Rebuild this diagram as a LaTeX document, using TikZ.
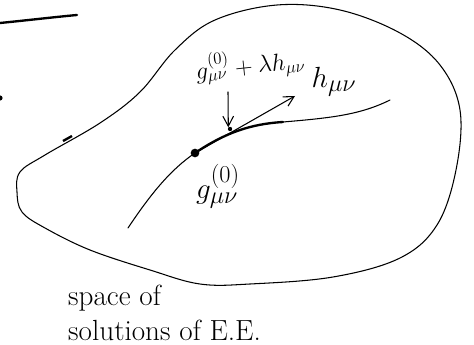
\documentclass[tikz,border=0pt]{standalone}
\usepackage{amsmath,amssymb}
\usetikzlibrary{arrows.meta}

\begin{document}
\begin{tikzpicture}[
    x=0.03cm, y=-0.03cm,
    pen/.style={draw=black, line width=0.9pt, line cap=round, line join=round},
    heavy/.style={draw=black, line width=2pt, line cap=round},
    spot/.style={circle, fill=black, inner sep=0pt, minimum size=2.6mm},
    speck/.style={circle, fill=black, inner sep=0pt, minimum size=1.3mm},
    lbl/.style={font=\Huge, text=black, inner sep=1pt},
    sublbl/.style={font=\huge, text=black, inner sep=1pt},
    vec/.style={pen, -{Straight Barb[length=3mm, width=3.2mm, line width=0.9pt]}},
  ]

  \useasboundingbox (0,0) rectangle (474,345);

  % ---------- stray marks on the left
  \draw[heavy] (0,23) .. controls (30,20) and (55,17) .. (77,15);
  \fill (0,98) circle (2.6);

  % ---------- the region
  \draw[pen] plot[smooth cycle, tension=0.6] coordinates {
      (20,172) (45,155) (100,123) (140,92) (175,50) (215,20) (277,5)
      (340,10) (400,33) (440,65) (460,110) (456,170) (437,225)
      (400,258) (333,277) (250,284) (200,284) (150,270) (90,250)
      (45,228) (22,212) (17,192)};
  \draw[line width=2pt] (63,141) -- (72,136);

  % ---------- the curve of solutions
  \node[spot] (g0) at (195,153) {};
  \node[speck] (gl) at (230,129) {};
  \coordinate (cs) at (128,228);
  \coordinate (ce) at (390,100);
  \coordinate (cm) at (283,122);
  \draw[pen] (cs) .. controls (150,195) and (170,170) .. (g0.center);
  \draw[heavy] (g0.center) .. controls (225,133) and (250,124) .. (cm);
  \draw[pen] (cm) .. controls (330,118) and (360,115) .. (ce);

  % ---------- tangent vector
  \coordinate (tip) at (295,96);
  \draw[vec] (g0.center) -- (tip);

  % ---------- labels
  \node[sublbl, rotate=6, anchor=south] (lsum) at (252,82)
    {$g^{(0)}_{\mu\nu}+\lambda h_{\mu\nu}$};
  \node[lbl] (lh) at (334,82) {$h_{\mu\nu}$};
  \node[lbl, anchor=north] (lg) at (218,163) {$g^{(0)}_{\mu\nu}$};
  \coordinate (astart) at (228,92);
  \draw[vec] (astart) -- (gl.north west);

  \node[lbl, anchor=north west, align=left, inner sep=0pt] (lspace) at (68,285)
    {\baselineskip=21pt space of\\solutions of E.E.};

\end{tikzpicture}
\end{document}
